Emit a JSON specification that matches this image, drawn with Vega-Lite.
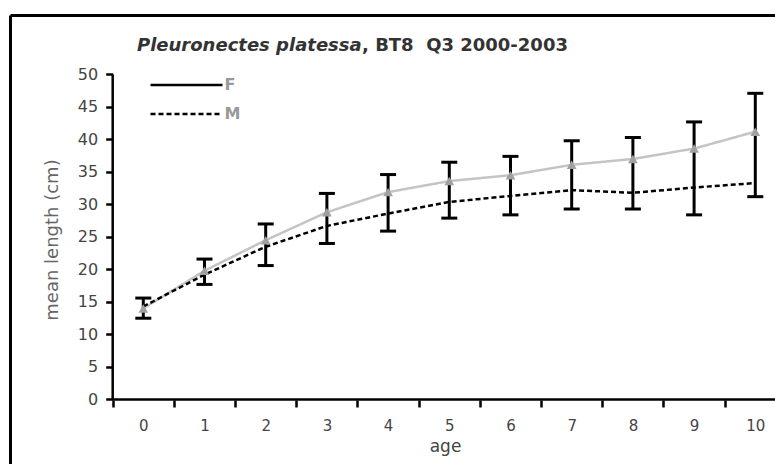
{
  "$schema": "https://vega.github.io/schema/vega-lite/v6.json",
  "width": 765,
  "height": 449,
  "autosize": {"type": "none"},
  "padding": {"left": 10, "top": 15, "right": 0, "bottom": 0},
  "background": "white",
  "config": {"view": {"stroke": null}, "font": "DejaVu Sans"},
  "datasets": {
    "means": [
      {"age": 0, "sex": "F", "len": 14.0}, {"age": 1, "sex": "F", "len": 19.8}, {"age": 2, "sex": "F", "len": 24.5},
      {"age": 3, "sex": "F", "len": 28.8}, {"age": 4, "sex": "F", "len": 31.9}, {"age": 5, "sex": "F", "len": 33.6},
      {"age": 6, "sex": "F", "len": 34.5}, {"age": 7, "sex": "F", "len": 36.1}, {"age": 8, "sex": "F", "len": 37.0},
      {"age": 9, "sex": "F", "len": 38.6}, {"age": 10, "sex": "F", "len": 41.2},
      {"age": 0, "sex": "M", "len": 14.3}, {"age": 1, "sex": "M", "len": 19.2}, {"age": 2, "sex": "M", "len": 23.5},
      {"age": 3, "sex": "M", "len": 26.7}, {"age": 4, "sex": "M", "len": 28.6}, {"age": 5, "sex": "M", "len": 30.4},
      {"age": 6, "sex": "M", "len": 31.3}, {"age": 7, "sex": "M", "len": 32.2}, {"age": 8, "sex": "M", "len": 31.8},
      {"age": 9, "sex": "M", "len": 32.6}, {"age": 10, "sex": "M", "len": 33.3}
    ],
    "eb": [
      {"age": 0, "lo": 12.5, "hi": 15.6}, {"age": 1, "lo": 17.7, "hi": 21.6}, {"age": 2, "lo": 20.6, "hi": 27.0},
      {"age": 3, "lo": 24.0, "hi": 31.7}, {"age": 4, "lo": 25.9, "hi": 34.6}, {"age": 5, "lo": 27.9, "hi": 36.5},
      {"age": 6, "lo": 28.4, "hi": 37.4}, {"age": 7, "lo": 29.3, "hi": 39.8}, {"age": 8, "lo": 29.3, "hi": 40.3},
      {"age": 9, "lo": 28.4, "hi": 42.7}, {"age": 10, "lo": 31.2, "hi": 47.1}
    ]
  },
  "resolve": {"axis": {"x": "independent", "y": "independent"}},
  "layer": [
    {
      "data": {"values": [{"k": 1}]},
      "mark": {"type": "rule", "strokeWidth": 2.5, "color": "black"},
      "encoding": {
        "x": {"datum": -0.5, "type": "quantitative", "scale": {"type": "linear", "domain": [-2.178, 10.322], "nice": false, "zero": false},
              "axis": {"orient": "top", "offset": 0, "domain": true, "domainColor": "black", "domainWidth": 3, "ticks": false, "labels": false, "grid": false, "title": null}},
        "x2": {"datum": 10.5},
        "y": {"datum": 0, "type": "quantitative", "scale": {"domain": [-9.93, 59.15], "nice": false, "zero": false},
              "axis": {"orient": "left", "offset": 0, "domain": true, "domainColor": "black", "domainWidth": 3, "ticks": false, "labels": false, "grid": false, "title": null}}
      }
    },
    {
      "data": {"values": [{"k": 1}]},
      "mark": {"type": "rule", "strokeWidth": 2.5, "color": "black"},
      "encoding": {
        "x": {"datum": -0.5, "type": "quantitative", "scale": {"type": "linear", "domain": [-2.178, 10.322], "nice": false, "zero": false}, "axis": null},
        "y": {"datum": 0, "type": "quantitative", "scale": {"domain": [-9.93, 59.15], "nice": false, "zero": false}, "axis": null},
        "y2": {"datum": 50}
      }
    },
    {
      "data": {"name": "eb"},
      "mark": {"type": "rule", "strokeWidth": 3, "color": "black"},
      "encoding": {
        "x": {"field": "age", "type": "quantitative", "scale": {"type": "linear", "domain": [-2.178, 10.322], "nice": false, "zero": false}, "axis": null},
        "y": {"field": "lo", "type": "quantitative", "scale": {"domain": [-9.93, 59.15], "nice": false, "zero": false}, "axis": null},
        "y2": {"field": "hi"}
      }
    },
    {
      "data": {"name": "eb"},
      "mark": {"type": "tick", "orient": "horizontal", "size": 16, "thickness": 3, "color": "black", "opacity": 1},
      "encoding": {
        "x": {"field": "age", "type": "quantitative", "scale": {"type": "linear", "domain": [-2.178, 10.322], "nice": false, "zero": false}, "axis": null},
        "y": {"field": "lo", "type": "quantitative", "scale": {"domain": [-9.93, 59.15], "nice": false, "zero": false}, "axis": null}
      }
    },
    {
      "data": {"name": "eb"},
      "mark": {"type": "tick", "orient": "horizontal", "size": 16, "thickness": 3, "color": "black", "opacity": 1},
      "encoding": {
        "x": {"field": "age", "type": "quantitative", "scale": {"type": "linear", "domain": [-2.178, 10.322], "nice": false, "zero": false}, "axis": null},
        "y": {"field": "hi", "type": "quantitative", "scale": {"domain": [-9.93, 59.15], "nice": false, "zero": false}, "axis": null}
      }
    },
    {
      "data": {"name": "means"},
      "mark": {"type": "line", "strokeWidth": 2.5},
      "encoding": {
        "x": {"field": "age", "type": "quantitative", "scale": {"type": "linear", "domain": [-2.178, 10.322], "nice": false, "zero": false},
              "axis": {"orient": "bottom", "offset": -64, "values": [-0.5, 0.5, 1.5, 2.5, 3.5, 4.5, 5.5, 6.5, 7.5, 8.5, 9.5],
                       "labelExpr": "format(datum.value + 0.5, 'd')", "labelOffset": 30.6, "labelFlush": false, "labelOverlap": false,
                       "domain": false, "grid": false, "ticks": true, "tickSize": 7, "tickWidth": 2.5, "tickColor": "black",
                       "labelFont": "DejaVu Sans", "labelFontSize": 15, "labelColor": "#444", "labelPadding": 11,
                       "title": "age", "titleFont": "DejaVu Sans", "titleFontSize": 17, "titleFontWeight": "normal", "titleColor": "#444",
                       "titleX": 435, "titlePadding": 5}},
        "y": {"field": "len", "type": "quantitative", "scale": {"domain": [-9.93, 59.15], "nice": false, "zero": false},
              "axis": {"orient": "left", "offset": -102.7, "values": [0, 5, 10, 15, 20, 25, 30, 35, 40, 45, 50],
                       "domain": false, "grid": false, "ticks": true, "tickSize": 7, "tickWidth": 2.5, "tickColor": "black",
                       "labelFont": "DejaVu Sans", "labelFontSize": 16, "labelColor": "#444", "labelPadding": 8,
                       "title": "mean length (cm)", "titleFont": "DejaVu Sans", "titleFontSize": 18, "titleFontWeight": "normal", "titleColor": "#666",
                       "titlePadding": 16}},
        "color": {"condition": {"test": "datum.sex == 'F'", "value": "#c4c4c4"}, "value": "black"},
        "strokeDash": {"field": "sex", "type": "nominal", "scale": {"domain": ["F", "M"], "range": [[1, 0], [5, 3]]},
                  "legend": {"orient": "none", "legendX": 167.5, "legendY": 61, "title": null, "symbolType": "M-4.8,0H4.8", "symbolSize": 225,
                             "symbolStrokeWidth": 2.5, "symbolStrokeColor": "black", "symbolFillColor": "transparent",
                             "labelFont": "DejaVu Sans", "labelFontSize": 16, "labelFontWeight": "bold", "labelColor": "#999",
                             "labelOffset": 29, "rowPadding": 12}}
      }
    },
    {
      "data": {"name": "means"},
      "transform": [{"filter": "datum.sex == 'F'"}],
      "mark": {"type": "point", "shape": "triangle-up", "filled": true, "size": 95, "color": "#a0a0a0", "opacity": 1},
      "encoding": {
        "x": {"field": "age", "type": "quantitative", "scale": {"type": "linear", "domain": [-2.178, 10.322], "nice": false, "zero": false}, "axis": null},
        "y": {"field": "len", "type": "quantitative", "scale": {"domain": [-9.93, 59.15], "nice": false, "zero": false}, "axis": null}
      }
    },
    {
      "data": {"values": [{"k": 1}]},
      "mark": {"type": "text", "text": "Pleuronectes platessa", "font": "DejaVu Sans", "fontSize": 18, "fontStyle": "italic", "fontWeight": "bold", "color": "#333", "align": "left", "baseline": "middle"},
      "encoding": {
        "x": {"datum": -0.103, "type": "quantitative", "scale": {"type": "linear", "domain": [-2.178, 10.322], "nice": false, "zero": false}, "axis": null},
        "y": {"datum": 54.43, "type": "quantitative", "scale": {"domain": [-9.93, 59.15], "nice": false, "zero": false}, "axis": null}
      }
    },
    {
      "data": {"values": [{"k": 1}]},
      "mark": {"type": "text", "text": ", BT8\u00a0\u00a0Q3 2000-2003", "font": "DejaVu Sans", "fontSize": 18, "fontWeight": "bold", "color": "#333", "align": "left", "baseline": "middle"},
      "encoding": {
        "x": {"datum": 3.574, "type": "quantitative", "scale": {"type": "linear", "domain": [-2.178, 10.322], "nice": false, "zero": false}, "axis": null},
        "y": {"datum": 54.43, "type": "quantitative", "scale": {"domain": [-9.93, 59.15], "nice": false, "zero": false}, "axis": null}
      }
    }
  ]
}
